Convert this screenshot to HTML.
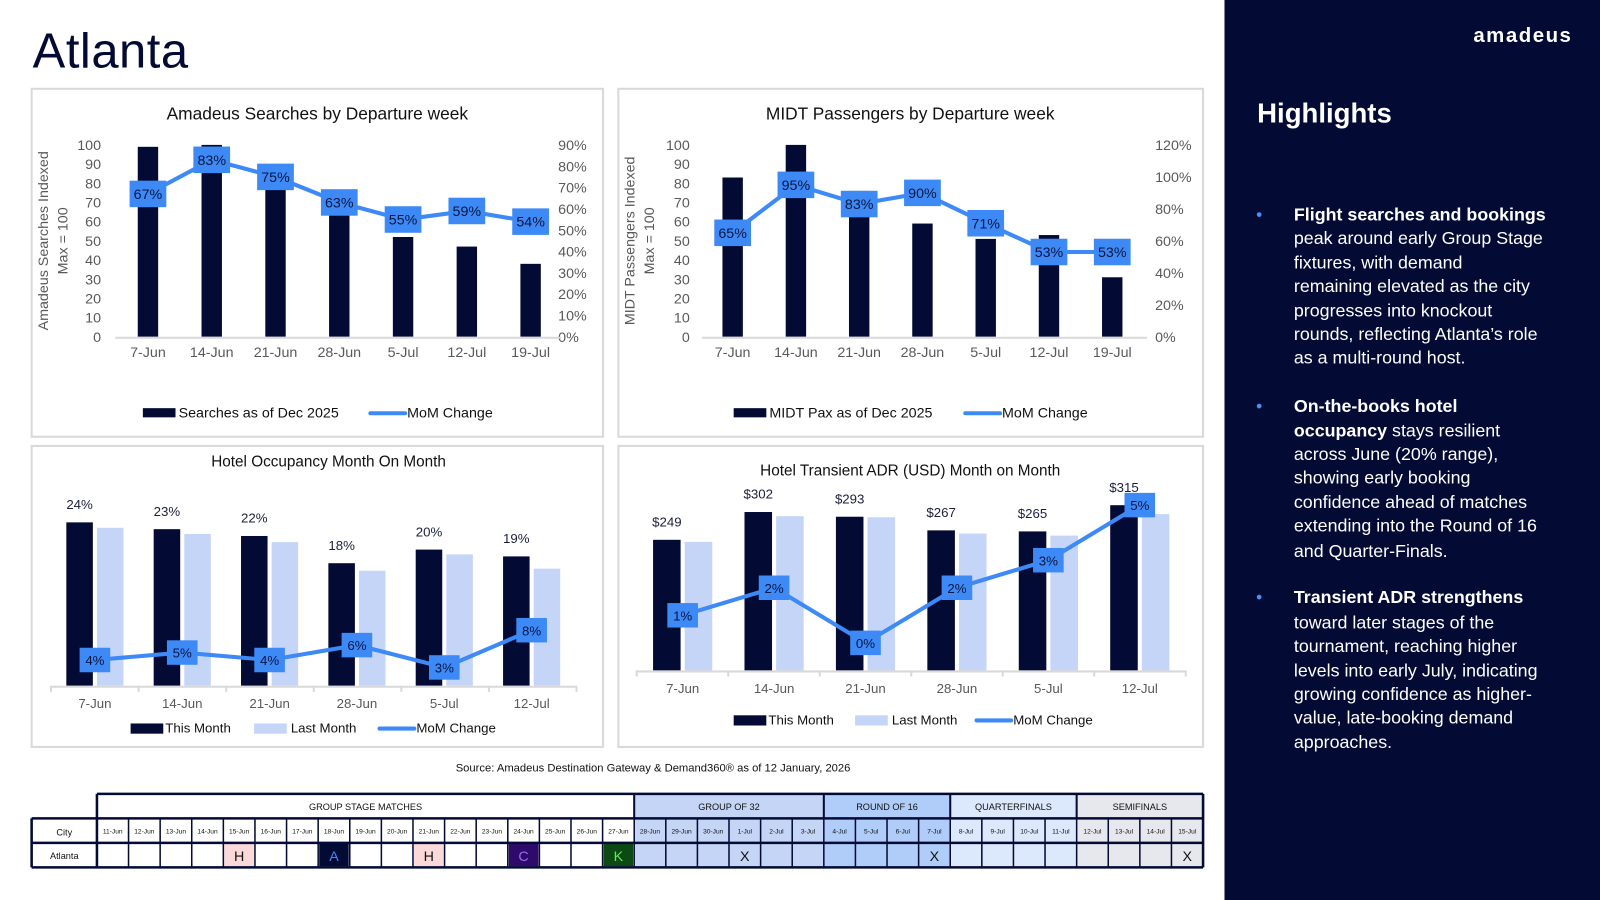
<!DOCTYPE html>
<html><head><meta charset="utf-8"><style>
html,body{margin:0;padding:0;background:#fff;width:1600px;height:900px;overflow:hidden}
svg{display:block;font-family:"Liberation Sans",sans-serif}
</style></head><body>
<svg id="s" width="1600" height="900" viewBox="0 0 1568 882">
<rect x="1200" y="0" width="368" height="882" fill="#030b34"/>
<text x="1541" y="41" fill="#fff" font-size="20" font-weight="bold" text-anchor="end" letter-spacing="1.5">amadeus</text>
<text x="1232" y="120" fill="#fff" font-size="27" font-weight="bold">Highlights</text>
<g fill="#fff" font-size="17.5">
<text x="1231" y="216" fill="#4a90f0" font-size="17">•</text>
<text x="1268" y="216" font-weight="bold">Flight searches and bookings</text>
<text x="1268" y="239">peak around early Group Stage</text>
<text x="1268" y="263">fixtures, with demand</text>
<text x="1268" y="286">remaining elevated as the city</text>
<text x="1268" y="310">progresses into knockout</text>
<text x="1268" y="333">rounds, reflecting Atlanta’s role</text>
<text x="1268" y="356">as a multi-round host.</text>
<text x="1231" y="404" fill="#4a90f0" font-size="17">•</text>
<text x="1268" y="404" font-weight="bold">On-the-books hotel</text>
<text x="1268" y="428"><tspan font-weight="bold">occupancy</tspan> stays resilient</text>
<text x="1268" y="451">across June (20% range),</text>
<text x="1268" y="474">showing early booking</text>
<text x="1268" y="498">confidence ahead of matches</text>
<text x="1268" y="521">extending into the Round of 16</text>
<text x="1268" y="546">and Quarter-Finals.</text>
<text x="1231" y="591" fill="#4a90f0" font-size="17">•</text>
<text x="1268" y="591" font-weight="bold">Transient ADR strengthens</text>
<text x="1268" y="616">toward later stages of the</text>
<text x="1268" y="639">tournament, reaching higher</text>
<text x="1268" y="663">levels into early July, indicating</text>
<text x="1268" y="686">growing confidence as higher-</text>
<text x="1268" y="709">value, late-booking demand</text>
<text x="1268" y="733">approaches.</text>
</g>
<text x="32" y="66" font-size="48" fill="#030b34" letter-spacing="0.5">Atlanta</text>
<rect x="31" y="87" width="560" height="341" fill="none" stroke="#d9d9d9" stroke-width="2"/>
<rect x="606" y="87" width="573" height="341" fill="none" stroke="#d9d9d9" stroke-width="2"/>
<rect x="31" y="437" width="560" height="295" fill="none" stroke="#d9d9d9" stroke-width="2"/>
<rect x="606" y="437" width="573" height="295" fill="none" stroke="#d9d9d9" stroke-width="2"/>
<text x="640" y="756" font-size="11" text-anchor="middle" fill="#111">Source: Amadeus Destination Gateway &amp; Demand360® as of 12 January, 2026</text>
</svg>
<script>
const weekCats=['7-Jun','14-Jun','21-Jun','28-Jun','5-Jul','12-Jul','19-Jul'];
const searchVals=[99,100,78,64,52,47,38];
const searchMoM=[67,83,75,63,55,59,54];
const paxVals=[83,100,76,59,51,53,31];
const paxMoM=[65,95,83,90,71,53,53];
const leftTicks=[0,10,20,30,40,50,60,70,80,90,100];
const searchRightTicks=[0,10,20,30,40,50,60,70,80,90];
const paxRightTicks=[0,20,40,60,80,100,120];
const hotelCats=['7-Jun','14-Jun','21-Jun','28-Jun','5-Jul','12-Jul'];
const occThis=[24,23,22,18,20,19];
const occLast=[23.2,22.3,21.1,16.9,19.3,17.2];
const occMoM=[4,5,4,6,3,8];
const adrThis=[249,302,293,267,265,315];
const adrLast=[245,294,292,261,257,298];
const adrMoM=[1,2,0,2,3,5];
const tableDates=['11-Jun','12-Jun','13-Jun','14-Jun','15-Jun','16-Jun','17-Jun','18-Jun','19-Jun','20-Jun','21-Jun','22-Jun','23-Jun','24-Jun','25-Jun','26-Jun','27-Jun','28-Jun','29-Jun','30-Jun','1-Jul','2-Jul','3-Jul','4-Jul','5-Jul','6-Jul','7-Jul','8-Jul','9-Jul','10-Jul','11-Jul','12-Jul','13-Jul','14-Jul','15-Jul'];
const stageNames=['GROUP STAGE MATCHES','GROUP OF 32','ROUND OF 16','QUARTERFINALS','SEMIFINALS'];
const stageSpans=[17,6,4,4,4];
const atlantaMarks={4:'H',7:'A',10:'H',13:'C',16:'K',20:'X',26:'X',34:'X'};

const NS='http://www.w3.org/2000/svg';
const svg=document.getElementById('s');
function mk(tag,attrs,txt){const e=document.createElementNS(NS,tag);for(const k in attrs)e.setAttribute(k,attrs[k]);if(txt!==undefined)e.textContent=txt;svg.appendChild(e);return e;}
const NAVY='#030b34',BLUE='#3d8af7',LIGHT='#c5d5f7',GRAY='#595959';

function topChart(o){
  const yL=v=>o.base-v/o.lmax*(o.base-o.top);
  const yR=v=>o.base-v/o.rmax*(o.base-o.top);
  const xc=i=>o.x0+i*o.step;
  let t=mk('text',{x:o.tx,y:117,'font-size':17,'text-anchor':'middle',fill:'#111'},o.title);
  
  
  leftTicks.forEach(v=>{const e=mk('text',{x:o.lx,y:yL(v)+5,'font-size':14,'text-anchor':'end',fill:GRAY},v);
    
    });
  o.rticks.forEach(v=>{const e=mk('text',{x:o.rx,y:yR(v)+5,'font-size':14,fill:GRAY},v+'%');
    
    });
  [o.ytitle1,'Max = 100'].forEach((s,k)=>{const cx=o.yt+k*19;const e=mk('text',{x:cx,y:236,'font-size':14,'text-anchor':'middle',fill:GRAY,transform:`rotate(-90 ${cx} 236)`},s);
    
    });
  o.vals.forEach((v,i)=>{const b=mk('rect',{x:xc(i)-10,y:yL(v),width:20,height:o.base-yL(v),fill:NAVY});
    
    });
  let a=mk('line',{x1:o.ax1,x2:o.ax2,y1:o.base+1,y2:o.base+1,stroke:'#d9d9d9','stroke-width':2});
  
  
  weekCats.forEach((c,i)=>{const e=mk('text',{x:xc(i),y:350,'font-size':14,'text-anchor':'middle',fill:GRAY},c);
    
    });
  let l=mk('polyline',{points:o.mom.map((v,i)=>xc(i)+','+yR(v)).join(' '),fill:'none',stroke:BLUE,'stroke-width':4});
  
  
  o.mom.forEach((v,i)=>{const r=mk('rect',{x:xc(i)-18,y:yR(v)-13,width:36,height:26,fill:BLUE});
    
    
    const e=mk('text',{x:xc(i),y:yR(v)+5,'font-size':14,'text-anchor':'middle',fill:'#0a1440'},v+'%');
    
    });
  let lr=mk('rect',{x:o.lg,y:400,width:32,height:9,fill:NAVY});
  
  
  let lt=mk('text',{x:o.lg+35,y:409,'font-size':14,fill:'#111'},o.legend);
  
  
  let ll=mk('line',{x1:o.lg2,x2:o.lg2+34,y1:405,y2:405,stroke:BLUE,'stroke-width':4,'stroke-linecap':'round'});
  
  
  let lt2=mk('text',{x:o.lg2+36,y:409,'font-size':14,fill:'#111'},'MoM Change');
  
  
}
topChart({id:'searches',title:'Amadeus Searches by Departure week',tx:311,x0:145,step:62.5,base:330,top:142,lmax:100,rmax:90,rticks:searchRightTicks,lx:99,rx:547,yt:47,ytitle1:'Amadeus Searches Indexed',vals:searchVals,mom:searchMoM,ax1:113,ax2:550,lg:140,lg2:363,legend:'Searches as of Dec 2025'});
topChart({id:'pax',title:'MIDT Passengers by Departure week',tx:892,x0:718,step:62,base:330,top:142,lmax:100,rmax:120,rticks:paxRightTicks,lx:676,rx:1132,yt:622,ytitle1:'MIDT Passengers Indexed',vals:paxVals,mom:paxMoM,ax1:688,ax2:1124,lg:719,lg2:946,legend:'MIDT Pax as of Dec 2025'});

function hotelChart(o){
  const xc=i=>o.x0+i*o.step;
  let t=mk('text',{x:o.tx,y:o.ty,'font-size':15,'text-anchor':'middle',fill:'#111'},o.title);
  
  
  o.thisV.forEach((v,i)=>{const b=mk('rect',{x:xc(i)+o.d1,y:o.yb(v),width:o.bw,height:o.base-o.yb(v),fill:NAVY});
    
    
    const e=mk('text',{x:xc(i)+o.d1+o.bw/2,y:o.yb(v)-13,'font-size':13,'text-anchor':'middle',fill:'#1a1f3d'},o.fmt(v));
    
    });
  o.lastV.forEach((v,i)=>{const b=mk('rect',{x:xc(i)+o.d2,y:o.yb(v),width:o.bw,height:o.base-o.yb(v),fill:LIGHT});
    
    });
  let a=mk('line',{x1:o.ax1,x2:o.ax2,y1:o.base+1,y2:o.base+1,stroke:'#d9d9d9','stroke-width':2});
  
  
  for(let i=0;i<=hotelCats.length;i++){const x=o.ax1+i*(o.ax2-o.ax1)/hotelCats.length;const tk=mk('line',{x1:x,x2:x,y1:o.base,y2:o.base+6,stroke:'#d9d9d9','stroke-width':2});
    
    }
  hotelCats.forEach((c,i)=>{const e=mk('text',{x:xc(i),y:o.base+22,'font-size':13,'text-anchor':'middle',fill:GRAY},c);
    
    });
  let l=mk('polyline',{points:o.mom.map((v,i)=>xc(i)+','+o.ym(v)).join(' '),fill:'none',stroke:BLUE,'stroke-width':4});
  
  
  o.mom.forEach((v,i)=>{const r=mk('rect',{x:xc(i)-15,y:o.ym(v)-12,width:30,height:24,fill:BLUE});
    
    
    const e=mk('text',{x:xc(i),y:o.ym(v)+5,'font-size':13,'text-anchor':'middle',fill:'#0a1440'},v+'%');
    
    });
  const ly=o.ly;
  let r1=mk('rect',{x:o.lg[0],y:ly-5,width:32,height:10,fill:NAVY});
  
  
  let t1=mk('text',{x:o.lg[0]+34,y:ly+4,'font-size':13,fill:'#111'},'This Month');
  
  
  let r2=mk('rect',{x:o.lg[1],y:ly-5,width:32,height:10,fill:LIGHT});
  
  
  let t2=mk('text',{x:o.lg[1]+36,y:ly+4,'font-size':13,fill:'#111'},'Last Month');
  
  
  let l3=mk('line',{x1:o.lg[2],x2:o.lg[2]+34,y1:ly,y2:ly,stroke:BLUE,'stroke-width':4,'stroke-linecap':'round'});
  
  
  let t3=mk('text',{x:o.lg[2]+36,y:ly+4,'font-size':13,fill:'#111'},'MoM Change');
  
  
}
hotelChart({id:'occupancy',title:'Hotel Occupancy Month On Month',tx:322,ty:457,x0:93,step:85.6,base:672,yb:v=>672-v*6.67,ym:v=>676-v*7.3,thisV:occThis,lastV:occLast,mom:occMoM,fmt:v=>v+'%',d1:-28,d2:2,bw:26,ax1:50,ax2:565,ly:714,lg:[128,249,372]});
hotelChart({id:'adr',title:'Hotel Transient ADR (USD) Month on Month',tx:892,ty:466,x0:669,step:89.6,base:657,yb:v=>657-v*0.514,ym:v=>630-v*27,thisV:adrThis,lastV:adrLast,mom:adrMoM,fmt:v=>'$'+v,d1:-29,d2:2,bw:27,ax1:624,ax2:1162,ly:706,lg:[719,838,957]});

// schedule table
const TX0=95,CW=(1179-95)/35,R0=778,R1=802,R2=826,R3=850;
const stageFill=['#ffffff','#c5d5f5','#b0cdf9','#dce8fc','#e6e8ee'];
let col=0;
stageNames.forEach((n,k)=>{const x=TX0+col*CW,w=stageSpans[k]*CW;
  const r=mk('rect',{x:x,y:R0,width:w,height:R3-R0,fill:stageFill[k]});
  
  
  const e=mk('text',{x:x+w/2,y:R0+16,'font-size':9,'text-anchor':'middle',fill:'#111'},n);
  
  
  col+=stageSpans[k];});
let cityBox=mk('rect',{x:31,y:R1,width:TX0-31,height:R3-R1,fill:'#fff'});


let ch=mk('text',{x:63,y:R1+17,'font-size':9,'text-anchor':'middle',fill:'#111'},'City');


let ca=mk('text',{x:63,y:R2+16,'font-size':9,'text-anchor':'middle',fill:'#111'},'Atlanta');


const markStyle={H:['#fcd9d9','#111'],A:['#030b34','#3d8af7'],C:['#2e0a6b','#9b6cf0'],K:['#0b4a12','#6de06d'],X:[null,'#111']};
tableDates.forEach((d,i)=>{const x=TX0+i*CW;
  const e=mk('text',{x:x+CW/2,y:R1+15,'font-size':6.5,'text-anchor':'middle',fill:'#111'},d);
  
  
  const m=atlantaMarks[i];
  if(m){const st=markStyle[m];
    if(st[0]){const r=mk('rect',{x:x+1,y:R2+1,width:CW-2,height:R3-R2-2,fill:st[0]});
      
      }
    const t=mk('text',{x:x+CW/2,y:R2+18,'font-size':14,'text-anchor':'middle',fill:st[1]},m);
    
    }
});
for(let i=0;i<=35;i++){const x=TX0+i*CW;const ln=mk('line',{x1:x,x2:x,y1:R1,y2:R3,stroke:NAVY,'stroke-width':1.5});
  
  }
col=0;stageSpans.forEach(s=>{col+=s;const x=TX0+col*CW;const ln=mk('line',{x1:x,x2:x,y1:R0,y2:R1,stroke:NAVY,'stroke-width':2});
  
  });
[[TX0,R0,1179,R0],[31,R1,1179,R1],[31,R2,1179,R2],[31,R3,1179,R3]].forEach(p=>{const ln=mk('line',{x1:p[0],y1:p[1],x2:p[2],y2:p[3],stroke:NAVY,'stroke-width':2.5});
  
  });
[[TX0,R0,TX0,R3],[31,R1,31,R3],[1179,R0,1179,R3]].forEach(p=>{const ln=mk('line',{x1:p[0],y1:p[1],x2:p[2],y2:p[3],stroke:NAVY,'stroke-width':2.5});
  
  });
</script>
</body></html>
